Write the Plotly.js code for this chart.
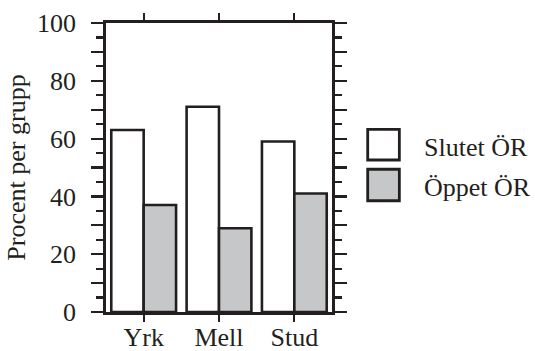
<!DOCTYPE html>
<html>
<head>
<meta charset="utf-8">
<script src="https://cdn.plot.ly/plotly-3.0.1.min.js"></script>
<style>
  html, body { margin: 0; padding: 0; background: #fff; }
  #chart { width: 535px; height: 351px; }
</style>
</head>
<body>
<div id="chart"></div>
<script>
// Share of each group (percent), closed vs open answer format
const groups = ["Yrk", "Mell", "Stud"];
const seriesNames = ["Slutet ÖR", "Öppet ÖR"];
const slutetValues = [63, 71, 59];
const oppetValues = [37, 29, 41];
const seriesColors = ["#ffffff", "#c6c7c9"];
const yTickVals = [0, 10, 20, 30, 40, 50, 60, 70, 80, 90, 100];
const yTickText = ["0", "", "20", "", "40", "", "60", "", "80", "", "100"];

const FONT = "Liberation Serif";
const INK = "#231f20";
const SIZE = 26;

const seriesValues = [slutetValues, oppetValues];
const traces = seriesNames.map((name, i) => ({
  type: "bar",
  name: name,
  x: groups,
  y: seriesValues[i],
  marker: { color: seriesColors[i], line: { color: INK, width: 2.6 } },
  showlegend: false,
  hoverinfo: "x+y+name"
}));

// Legend drawn as large boxes with labels, to the right of the plot
const legendBoxes = [[0.526, 0.632], [0.385, 0.494]];
const shapes = [];
const annotations = [];
seriesNames.forEach((name, i) => {
  const [y0, y1] = legendBoxes[i];
  shapes.push({
    type: "rect", xref: "paper", yref: "paper",
    x0: 1.158, x1: 1.298, y0: y0, y1: y1,
    fillcolor: seriesColors[i], line: { color: INK, width: 2.8 }
  });
  annotations.push({
    xref: "paper", yref: "paper", x: 1.40, y: (y0 + y1) / 2 - 0.01,
    xanchor: "left", yanchor: "middle", showarrow: false,
    text: name, font: { family: FONT, size: SIZE, color: INK }
  });
});

const layout = {
  width: 535, height: 351,
  margin: { l: 105.5, r: 202.5, t: 23.3, b: 39.4 },
  paper_bgcolor: "#ffffff", plot_bgcolor: "#ffffff",
  barmode: "group", bargap: 0.14, bargroupgap: 0,
  font: { family: FONT, color: INK, size: SIZE },
  xaxis: {
    range: [-0.5, 2.5], automargin: false,
    showline: true, linecolor: INK, linewidth: 2.7, mirror: "ticks",
    ticks: "outside", ticklen: 7, tickwidth: 2.2, tickcolor: INK,
    ticklabelstandoff: -7,
    showgrid: false, zeroline: false,
    tickfont: { family: FONT, size: SIZE, color: INK }
  },
  yaxis: {
    range: [0, 100], automargin: false,
    tickmode: "array", tickvals: yTickVals, ticktext: yTickText,
    showline: true, linecolor: INK, linewidth: 2.7, mirror: "ticks",
    ticks: "outside", ticklen: 12, tickwidth: 2.2, tickcolor: INK,
    ticklabelstandoff: 10,
    minor: { dtick: 5, ticks: "outside", ticklen: 7, tickwidth: 2.2, tickcolor: INK, showgrid: false },
    showgrid: false, zeroline: false,
    tickfont: { family: FONT, size: SIZE, color: INK },
    title: { text: "Procent per grupp", font: { family: FONT, size: SIZE, color: INK }, standoff: 4 }
  },
  shapes: shapes,
  annotations: annotations
};

Plotly.newPlot("chart", traces, layout, { displayModeBar: false, staticPlot: true });
</script>
</body>
</html>
